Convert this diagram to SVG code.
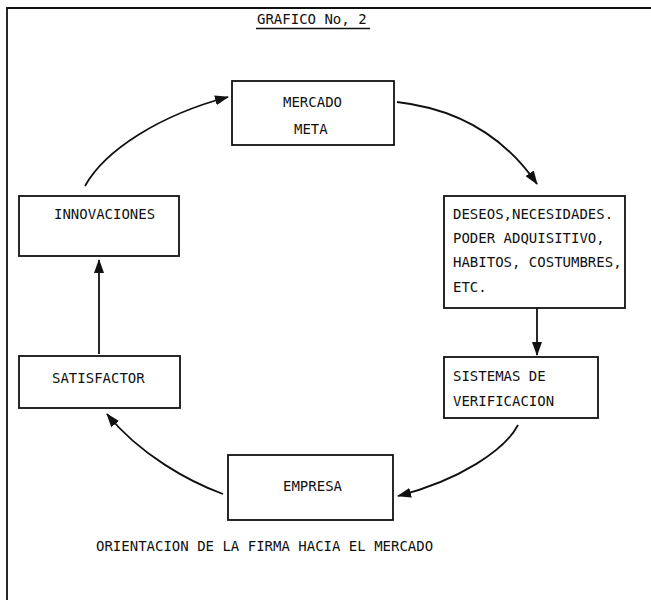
<svg xmlns="http://www.w3.org/2000/svg" width="651" height="600" viewBox="0 0 651 600">
<style>
  .box { fill: #ffffff; stroke: #111111; stroke-width: 1.8; }
  .t { font-family: "DejaVu Sans Mono", "Liberation Mono", monospace; font-size: 14px; fill: #111111; }
  .conn { fill: none; stroke: #111111; stroke-width: 1.8; }
  .frame { fill: none; stroke: #111111; stroke-width: 1.8; }
</style>
<defs>
  <marker id="arr" markerWidth="14" markerHeight="10" refX="13" refY="5" orient="auto" markerUnits="userSpaceOnUse">
    <path d="M0,0 L14,5 L0,10 Z" fill="#111111"/>
  </marker>
</defs>
<rect width="651" height="600" fill="#ffffff"/>
<g id="frame">
  <path class="frame" d="M7,600 L7,8 L651,8"/>
  <text class="t" x="257" y="24">GRAFICO No, 2</text>
  <line x1="256" y1="28.5" x2="370" y2="28.5" stroke="#111111" stroke-width="1.5"/>
</g>
<g id="mercado">
  <rect class="box" x="232" y="81" width="162" height="64"/>
  <text class="t" x="283" y="107">MERCADO</text>
  <text class="t" x="294" y="134">META</text>
</g>
<g id="deseos">
  <rect class="box" x="444" y="196" width="181" height="112"/>
  <text class="t" x="453" y="219">DESEOS,NECESIDADES.</text>
  <text class="t" x="453" y="243">PODER ADQUISITIVO,</text>
  <text class="t" x="453" y="267">HABITOS, COSTUMBRES,</text>
  <text class="t" x="453" y="292">ETC.</text>
</g>
<g id="sistemas">
  <rect class="box" x="444" y="357" width="154" height="61"/>
  <text class="t" x="453" y="381">SISTEMAS DE</text>
  <text class="t" x="453" y="406">VERIFICACION</text>
</g>
<g id="empresa">
  <rect class="box" x="228" y="455" width="165" height="65"/>
  <text class="t" x="283" y="491">EMPRESA</text>
</g>
<g id="satisfactor">
  <rect class="box" x="19" y="356" width="161" height="52"/>
  <text class="t" x="52" y="383">SATISFACTOR</text>
</g>
<g id="innovaciones">
  <rect class="box" x="19" y="196" width="160" height="60"/>
  <text class="t" x="54" y="219">INNOVACIONES</text>
</g>
<g id="caption">
  <text class="t" x="96" y="551">ORIENTACION DE LA FIRMA HACIA EL MERCADO</text>
</g>
<g id="connectors">
  <path class="conn" d="M85,186 C105,150 160,115 228,97" marker-end="url(#arr)"/>
  <path class="conn" d="M397,102 C450,108 500,130 537,184" marker-end="url(#arr)"/>
  <path class="conn" d="M537,308 L537,355" marker-end="url(#arr)"/>
  <path class="conn" d="M518,425 C505,450 460,480 398,496" marker-end="url(#arr)"/>
  <path class="conn" d="M223,494 C190,482 140,455 107,414" marker-end="url(#arr)"/>
  <path class="conn" d="M99,354 L99,260" marker-end="url(#arr)"/>
</g>
</svg>
